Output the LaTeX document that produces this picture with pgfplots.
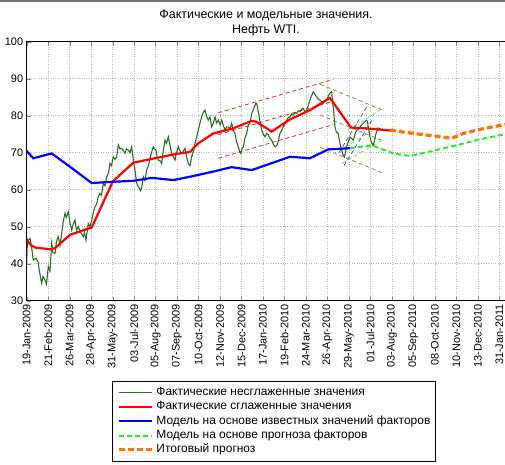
\documentclass[border=0pt]{standalone}
\usepackage{pgfplots}
\pgfplotsset{compat=1.18}
\usepackage{fontspec}
\setmainfont{Liberation Sans}

\definecolor{fact}{RGB}{40,110,40}
\definecolor{limeg}{RGB}{30,240,30}
\definecolor{orng}{RGB}{255,115,0}
\definecolor{chred}{RGB}{220,40,40}
\definecolor{cholive}{RGB}{140,135,70}
\definecolor{chlime}{RGB}{110,225,90}
\definecolor{chblue}{RGB}{70,80,230}

\begin{document}
\begin{tikzpicture}
\begin{axis}[
    scale only axis,
    width=485.3bp, height=259bp,
    xmin=0, xmax=745.6, ymin=30, ymax=100,
    xtick={0,33,...,726},
    xticklabels={19-Jan-2009,21-Feb-2009,26-Mar-2009,28-Apr-2009,31-May-2009,03-Jul-2009,05-Aug-2009,07-Sep-2009,10-Oct-2009,12-Nov-2009,15-Dec-2009,17-Jan-2010,19-Feb-2010,24-Mar-2010,26-Apr-2010,29-May-2010,01-Jul-2010,03-Aug-2010,05-Sep-2010,08-Oct-2010,10-Nov-2010,13-Dec-2010,31-Jan-2011},
    ytick={30,40,...,100},
    tick pos=both, tick align=inside,
    major tick length=4bp,
    /pgf/number format/assume math mode=true,
    tick label style={font=\fontsize{11}{12}\selectfont},
    xticklabel style={rotate=90, anchor=east},
    grid=major,
    major grid style={gray!55, dotted, line width=0.5bp},
    axis line style={line width=0.6bp},
    title={Фактические и модельные значения.\\Нефть WTI.},
    title style={at={(0.4931,1)}, anchor=south, align=center, yshift=-4bp,
                 font=\fontsize{12.5}{15}\selectfont},
    legend cell align=left,
    legend style={at={(0.17515,-0.30888)}, anchor=north west,
        draw=black, line width=0.5bp, inner xsep=5bp, inner ysep=4.5bp,
        font=\fontsize{12}{13}\selectfont, row sep=0pt,
        nodes={inner sep=0pt, text height=10bp, text depth=4.3bp},
        /tikz/every odd column/.append style={column sep=3.3bp}},
    legend image code/.code={\draw[#1] (0bp,0bp) -- (33bp,0bp);},
]
% channels
\addplot[chred, dash pattern=on 4bp off 3bp, line width=0.8bp, forget plot] coordinates {(294.4,80.8) (471,89.8)};
\addplot[chred, dash pattern=on 4bp off 3bp, line width=0.8bp, forget plot] coordinates {(294.4,74.9) (471,83.9)};
\addplot[chred, dash pattern=on 4bp off 3bp, line width=0.8bp, forget plot] coordinates {(294.4,68.5) (471,77.6)};
\addplot[cholive, dash pattern=on 4bp off 3bp, line width=0.8bp, forget plot] coordinates {(450.6,88.5) (547.4,81.5)};
\addplot[cholive, dash pattern=on 4bp off 3bp, line width=0.8bp, forget plot] coordinates {(450.6,80.2) (547.4,73.2)};
\addplot[cholive, dash pattern=on 4bp off 3bp, line width=0.8bp, forget plot] coordinates {(450.6,71.5) (547.4,64.5)};
\addplot[chlime, dash pattern=on 4bp off 3bp, line width=0.8bp, forget plot] coordinates {(484.4,67.1) (545.8,73.4)};
\addplot[chlime, dash pattern=on 4bp off 3bp, line width=0.8bp, forget plot] coordinates {(489,71.5) (545.8,77.5)};
\addplot[chlime, dash pattern=on 4bp off 3bp, line width=0.8bp, forget plot] coordinates {(493.6,76.2) (545.8,81.8)};
\addplot[chblue, dash pattern=on 4bp off 3bp, line width=0.8bp, forget plot] coordinates {(479.8,70) (522.8,82.5)};
\addplot[chblue, dash pattern=on 4bp off 3bp, line width=0.8bp, forget plot] coordinates {(487.5,66.5) (530.5,78.8)};

% actual, unsmoothed
\addplot[fact, line width=1.1bp] coordinates {
(0,40.1)(1.2,46.6)(2.5,46.4)(5.1,46.8)(7.5,44.5)(10.1,41)(14.3,41.5)(17.4,40.5)(20,37.5)(23,34.7)
(25,36.5)(28.1,35.6)(30.4,34.5)(33.2,39.2)(35.8,38)(38.4,45.5)(40.4,43)(43.5,42.8)(45.8,46)(48.5,47.3)
(51.2,45)(53.8,48.2)(55.8,51)(58.8,53.6)(61.1,52.5)(63.9,54.1)(66.5,51)(69.1,49.1)(71.1,50.5)(74.2,51.8)
(76.5,49)(79.3,50)(82.7,48.5)(87,47.3)(88.8,48.5)(91.1,46.4)(94.6,50.9)(97.2,50)(99.9,51.8)(101.9,53.5)
(104.9,55.4)(107.2,56)(110,58.1)(112.6,59)(114.9,58.5)(117.7,61.7)(120.3,61)(122.9,63.5)(125.7,64.5)(128,67.1)
(130.3,66.5)(133,68.9)(135.6,68.2)(138.2,68.9)(140.7,72.1)(143.3,71)(145.9,71.2)(148.7,70.5)(151,69.8)(153.3,71)
(156.1,70.7)(158.7,70)(161.3,71.6)(163.8,68)(166.4,65.3)(168.7,62)(171.5,60.8)(175.1,59.7)(177.1,61)(179.1,63.5)
(181.7,62.5)(184.3,65.3)(187.1,66.5)(189.4,68.5)(191.7,70)(194.5,71.6)(196.3,71)(198.6,70.7)(200.2,69)(202.2,68)
(204.8,67.8)(207.4,67.1)(209.4,70)(212.5,73.4)(214.8,72.5)(217.5,74.3)(220.2,72)(222.8,69.8)(225.5,68.8)(227.8,68)
(230.1,70)(232.9,71.6)(235.5,70.5)(238.1,69.8)(240.9,70.5)(243.2,71.2)(245.5,69)(248.3,67.1)(250.9,66.5)(253.5,68.9)
(256.3,70.5)(258.6,72.5)(260.9,74)(263.6,76.1)(266.2,78)(268.9,79.7)(271.6,81)(273.9,81.5)(276.2,80)(279,78.8)
(281.6,79.7)(284.2,77)(286.7,78)(289.3,79.7)(291.6,78)(294.4,78.8)(297,77.5)(299.6,78.8)(302,77.5)(304.6,76.1)
(306.9,77)(309.7,77)(312.3,76.5)(314.9,78)(317.4,76)(320,75.2)(322.3,73)(325.1,71.6)(327.7,70)(328.8,69.8)
(330.8,71)(332.8,71.6)(335.4,74)(338,75.2)(340.4,77.5)(343.1,78)(345.7,80.6)(348.1,81.5)(350,82.5)(352.3,83.4)
(353.8,83)(355.8,81.1)(358.4,78.5)(361,76.1)(363.5,75)(366.1,74.3)(368.4,75.2)(371.2,74.8)(373.8,73.8)(376.4,73.4)
(378.8,72.3)(381.5,71.6)(385,72.1)(387.6,74)(389.1,75.2)(391.7,76)(394.2,77)(396.8,77.8)(399.4,78.8)(401.9,79.5)
(404.5,79.7)(407.1,80.5)(409.6,80.2)(412.2,80.8)(414.8,80.6)(417.3,81.3)(419.9,81.1)(422.5,81.8)(424.9,82)(427.5,81)
(430.1,81.5)(432.6,82.8)(435.2,84.2)(437.8,85.5)(440.3,86.5)(442.8,85.8)(445.4,85.1)(447.9,84.5)(450.6,84.2)(453.2,83.8)
(455.6,83.4)(458.2,84)(460.8,84.2)(463.3,85.3)(465.9,86.1)(468.5,86.5)(470.1,83.4)(471,82.4)(473.6,77)(475.9,75.5)
(478.7,75.2)(481.3,72.5)(483.9,70.7)(485.9,69.5)(487.9,68.9)(489.8,70)(491.6,71.6)(494.1,73)(496.7,74.3)(499.3,73.8)
(501.8,73.4)(504.4,75)(507,76.1)(509.5,76.3)(512.1,77)(514.7,77.5)(517.2,78)(519.8,78.5)(522.3,78.8)(523.6,78.3)
(524.8,77)(526.7,75)(528.5,73.4)(530.5,72.5)(532.6,72.1)(534.7,73.5)(536.6,75.2)(538.6,76)(540.2,76.6)(542.8,76.5)
(545.4,76.1)
};
\addlegendentry{Фактические несглаженные значения}

% actual, smoothed
\addplot[red, line width=2.2bp] coordinates {
(0,46.4)(6.6,45)(14.3,44.3)(37.3,43.9)(43.5,44.2)(66.5,47.8)(99.9,49.8)(132.6,62.3)(163.8,67.3)(197.1,68.5)
(230.9,69.7)(250.9,70.2)(263.2,72.5)(286.7,75.2)(317.4,76.6)(345.7,78.6)(352.3,78.4)(376.4,75.7)(404.5,79)(435.2,81.5)
(465.9,84.8)(498.2,76.8)(519.7,76.6)(545.8,76.2)(558.1,76.0)
};
\addlegendentry{Фактические сглаженные значения}

% model, known factors
\addplot[blue, line width=2.2bp] coordinates {
(0,70.5)(10.1,68.5)(38.4,69.8)(66.5,66.2)(99.9,61.8)(128,62.1)(163.8,62.4)(192,63.2)(225.2,62.6)(250.9,63.5)
(286.7,64.9)(314.9,66.1)(345.7,65.3)(404.5,68.9)(435.2,68.5)(463.3,70.9)(496.7,71.2)
};
\addlegendentry{Модель на основе известных значений факторов}

% model, forecast factors
\addplot[limeg, line width=2bp, dash pattern=on 5bp off 3bp] coordinates {
(496.7,71.2)(530,72.0)(553,70.5)(563.2,69.8)(588.9,69.1)(616.5,70.2)(655.4,71.8)(696.4,73.6)(734.8,75.0)(745.6,75.2)
};
\addlegendentry{Модель на основе прогноза факторов}

% final forecast
\addplot[orng, line width=3.2bp, dash pattern=on 6bp off 3bp] coordinates {
(558.1,76.1)(599.2,75.1)(635,74.3)(653,73.9)(670.7,75.2)(696.4,76.3)(722,77.2)(734.8,77.6)(745.6,77.9)
};
\addlegendentry{Итоговый прогноз}
\end{axis}
\fill[black!55] (-26.7bp,298.7bp) rectangle (478.3bp,300.7bp);
\pgfresetboundingbox
\path[use as bounding box] (-26.7bp,-164.3bp) rectangle (478.3bp,300.7bp);
\end{tikzpicture}
\end{document}
